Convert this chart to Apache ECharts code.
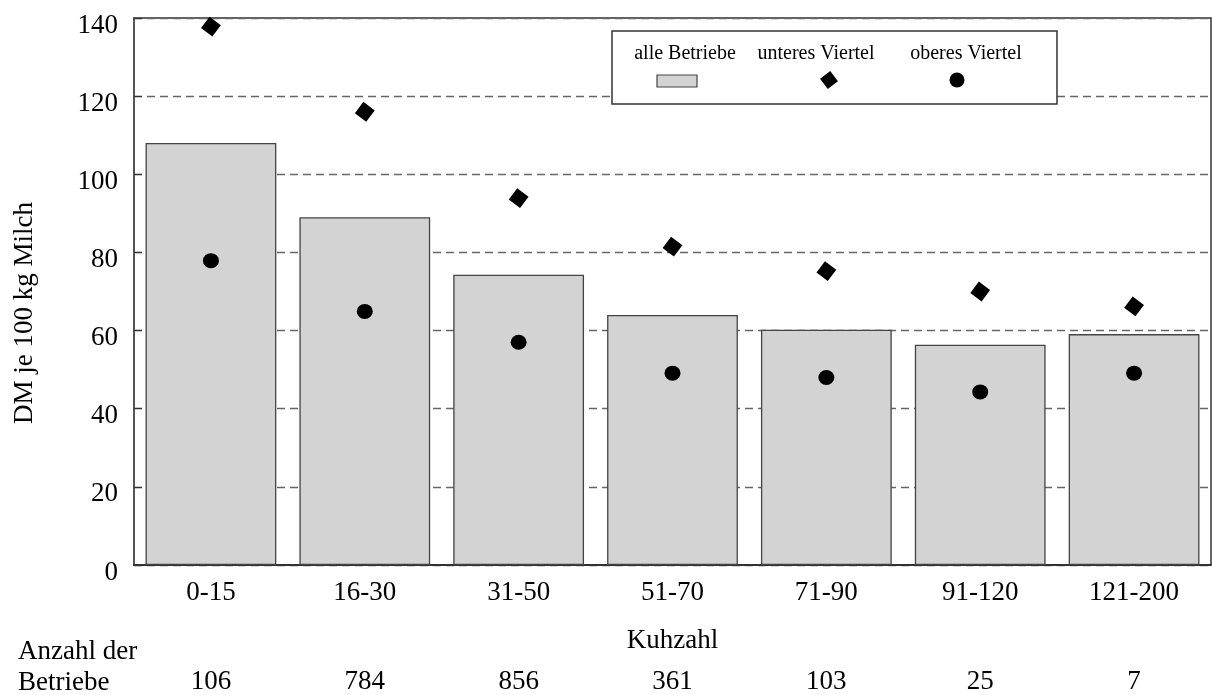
<!DOCTYPE html>
<html>
<head>
<meta charset="utf-8">
<script src="https://cdn.jsdelivr.net/npm/echarts@6/dist/echarts.min.js"></script>
<style>html,body{margin:0;padding:0;background:#fff}#c{width:1212px;height:695px}</style>
</head>
<body>
<div id="c"></div>
<script>
const categories = ['0-15', '16-30', '31-50', '51-70', '71-90', '91-120', '121-200'];
const betriebsAnzahl = ['106', '784', '856', '361', '103', '25', '7'];
const alleBetriebe = [108, 89, 74.3, 64, 60.2, 56.4, 59.1];
const unteresViertel = [137.8, 116, 93.9, 81.5, 75.2, 70, 66.2];
const oberesViertel = [77.9, 64.9, 57, 49.1, 48, 44.3, 49.1];
const yTicks = { min: 0, max: 140, interval: 20 };

const FONT = 'Liberation Serif';
const chart = echarts.init(document.getElementById('c'), null, { renderer: 'canvas' });
chart.setOption({
  backgroundColor: '#fff',
  animation: false,
  textStyle: { fontFamily: FONT, color: '#000' },
  grid: { left: 134, right: 1, top: 18, bottom: 128, show: true, borderColor: '#333', borderWidth: 1.5, backgroundColor: 'transparent' },
  xAxis: [
    {
      type: 'category', data: categories, position: 'bottom',
      name: 'Kuhzahl', nameLocation: 'middle', nameGap: 62,
      nameTextStyle: { fontFamily: FONT, fontSize: 27, color: '#000' },
      axisLine: { lineStyle: { color: '#222', width: 1.5 } },
      axisTick: { show: false },
      axisLabel: { fontFamily: FONT, fontSize: 27, color: '#000', margin: 14 }
    },
    {
      type: 'category', data: betriebsAnzahl, position: 'bottom', offset: 89,
      axisLine: { show: false }, axisTick: { show: false }, splitLine: { show: false },
      axisLabel: { fontFamily: FONT, fontSize: 27, color: '#000', margin: 14 }
    }
  ],
  yAxis: {
    type: 'value', min: yTicks.min, max: yTicks.max, interval: yTicks.interval,
    axisLine: { show: true, lineStyle: { color: '#555', width: 2 } },
    axisTick: { show: true, inside: true, length: 8, lineStyle: { color: '#333', width: 1.2 } },
    axisLabel: { fontFamily: FONT, fontSize: 27, color: '#000', margin: 16, verticalAlign: 'top', lineHeight: 15 },
    splitLine: { show: true, lineStyle: { color: '#666', width: 1.3, type: [8, 5] } }
  },
  series: [
    {
      name: 'alle Betriebe', type: 'bar', data: alleBetriebe, xAxisIndex: 0,
      barCategoryGap: '15%',
      itemStyle: { color: '#d3d3d3', borderColor: '#444', borderWidth: 1.3 },
      z: 2
    },
    {
      name: 'unteres Viertel', type: 'scatter', data: unteresViertel, xAxisIndex: 0,
      symbol: 'diamond', symbolSize: [20, 20], symbolRotate: 8,
      itemStyle: { color: '#000', opacity: 1 }, z: 5
    },
    {
      name: 'oberes Viertel', type: 'scatter', data: oberesViertel, xAxisIndex: 0,
      symbol: 'circle', symbolSize: [16, 15],
      itemStyle: { color: '#000', opacity: 1 }, z: 5
    }
  ],
  graphic: [
    { type: 'text', left: 18, top: 638, style: { text: 'Anzahl der', font: '27px "Liberation Serif"', fill: '#000' } },
    { type: 'text', left: 18, top: 669, style: { text: 'Betriebe', font: '27px "Liberation Serif"', fill: '#000' } },
    { type: 'text', x: 25, y: 313, rotation: Math.PI / 2, style: { text: 'DM je 100 kg Milch', font: '27px "Liberation Serif"', fill: '#000', align: 'center', verticalAlign: 'middle' } },
    { type: 'rect', shape: { x: 612, y: 31, width: 445, height: 73 }, style: { fill: '#fff', stroke: '#333', lineWidth: 1.5 }, z: 10 },
    { type: 'text', x: 685, y: 54, style: { text: 'alle Betriebe', font: '20px "Liberation Serif"', fill: '#000', align: 'center', verticalAlign: 'middle' }, z: 11 },
    { type: 'text', x: 816, y: 54, style: { text: 'unteres Viertel', font: '20px "Liberation Serif"', fill: '#000', align: 'center', verticalAlign: 'middle' }, z: 11 },
    { type: 'text', x: 966, y: 54, style: { text: 'oberes Viertel', font: '20px "Liberation Serif"', fill: '#000', align: 'center', verticalAlign: 'middle' }, z: 11 },
    { type: 'rect', shape: { x: 657, y: 75, width: 40, height: 12 }, style: { fill: '#d3d3d3', stroke: '#444', lineWidth: 1.2 }, z: 11 },
    { type: 'polygon', x: 829, y: 80, rotation: -0.14, shape: { points: [[0, -9], [9, 0], [0, 9], [-9, 0]] }, style: { fill: '#000' }, z: 11 },
    { type: 'circle', shape: { cx: 957, cy: 80, r: 7.5 }, style: { fill: '#000' }, z: 11 }
  ]
});
</script>
</body>
</html>
